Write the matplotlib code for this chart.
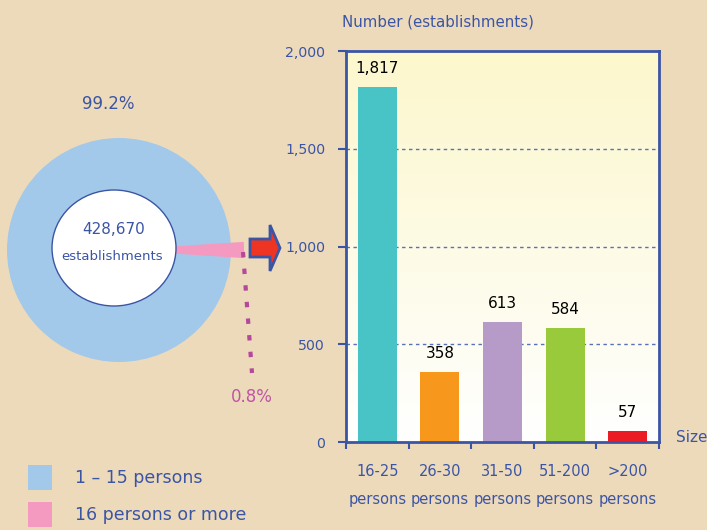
import numpy as np
import matplotlib
matplotlib.use("Agg")
import matplotlib.pyplot as plt
from matplotlib.patches import Ellipse, Polygon, Rectangle
from matplotlib.colors import LinearSegmentedColormap
from matplotlib.ticker import FuncFormatter

# datos
size_labels = ["16-25\npersons", "26-30\npersons", "31-50\npersons", "51-200\npersons", ">200\npersons"]
establishments = [1817, 358, 613, 584, 57]
bar_colors = ["#48C3C6", "#F7981D", "#B69AC7", "#99CA3C", "#EC1C24"]

share_labels = ["1 – 15 persons", "16 persons or more"]
shares = [99.2, 0.8]
share_colors = ["#A3C9EA", "#F49AC1"]
total_establishments = 428670

BG = "#EDDABB"
AZUL = "#3B55A5"
ROSA_TXT = "#BE55A4"
W, H = 707, 530

plt.rcParams["font.family"] = ["DejaVu Sans"]

fig = plt.figure(figsize=(W / 100, H / 100), dpi=100, facecolor=BG)

# capa en pixeles para la dona, flecha y leyenda
ax_o = fig.add_axes([0, 0, 1, 1])
ax_o.patch.set_visible(False)

def py(y):
    return H - y

cx, cy, radio = 119, py(250), 112
pct_chico = shares[1] / sum(shares) * 360
wedges, _ = ax_o.pie(shares, colors=share_colors, radius=radio, center=(cx, cy),
                     startangle=-pct_chico / 2, counterclock=True,
                     wedgeprops=dict(linewidth=0))
# la porcion pequeña se dibuja ampliada para que se vea
enfasis = 2.6
wedges[0].set_theta1(0)
wedges[0].set_theta2(360)
wedges[0].set_zorder(1)
wedges[1].set_radius(radio + 13)
wedges[1].set_theta1(-pct_chico * enfasis / 2)
wedges[1].set_theta2(pct_chico * enfasis / 2)
wedges[1].set_zorder(2)

ax_o.add_patch(Ellipse((114, py(248)), 124, 116, facecolor="white", edgecolor=AZUL,
                       linewidth=1, zorder=3))
ax_o.text(114, py(229), f"{total_establishments:,}", ha="center", va="center",
          fontsize=11, color=AZUL, zorder=4)
ax_o.text(112, py(257), "establishments", ha="center", va="center",
          fontsize=9.5, color=AZUL, zorder=4)

ax_o.text(108, py(104), f"{shares[0]:.1f}%", ha="center", va="center", fontsize=12, color=AZUL)
ax_o.text(252, py(397), f"{shares[1]:.1f}%", ha="center", va="center", fontsize=12, color=ROSA_TXT)
ax_o.plot([243, 252], [py(252), py(373)], color="#B5489B", linestyle=(0, (1.3, 2.7)),
          linewidth=3, dash_capstyle="butt", zorder=2)

flecha = [(250, py(239)), (270, py(239)), (270, py(225)), (280, py(248)),
          (270, py(271)), (270, py(257)), (250, py(257))]
ax_o.add_patch(Polygon(flecha, closed=True, facecolor="#EE3524", edgecolor=AZUL,
                       linewidth=2, joinstyle="miter", zorder=3))

# leyenda
for i, (lab, col) in enumerate(zip(share_labels, share_colors)):
    y0 = 465 + i * 37
    ax_o.add_patch(Rectangle((28, py(y0 + 25)), 24, 25, facecolor=col, edgecolor="none"))
    ax_o.text(75, py(y0 + 13), lab, ha="left", va="center", fontsize=12.5, color=AZUL)

ax_o.text(342, py(22), "Number (establishments)", ha="left", va="center", fontsize=10.8, color=AZUL)
ax_o.text(676, py(438), "Size", ha="left", va="center", fontsize=11, color=AZUL)

ax_o.set_xlim(0, W)
ax_o.set_ylim(0, H)
ax_o.set_aspect("auto")
ax_o.axis("off")

# grafico de barras
ax = fig.add_axes([346 / W, (H - 442) / H, 313 / W, 391 / H])
pos = np.arange(len(establishments))
ax.set_xlim(-0.5, len(establishments) - 0.5)
ax.set_ylim(0, 2000)

grad = np.linspace(0, 1, 256).reshape(-1, 1)
cmap = LinearSegmentedColormap.from_list("fondo", ["#FFFFFF", "#FCF7CC"])
ax.imshow(grad, extent=(-0.5, len(establishments) - 0.5, 0, 2000), origin="lower",
          aspect="auto", cmap=cmap, zorder=0)

for y in [500, 1000, 1500]:
    ax.axhline(y, color="#5A70B8", linewidth=1, linestyle=(0, (2.5, 2.5)), zorder=1)

ax.bar(pos, establishments, width=0.62, color=bar_colors, zorder=2)
for x, v in zip(pos, establishments):
    ax.annotate(f"{v:,}", (x, v), xytext=(0, 8), textcoords="offset points",
                ha="center", va="bottom", fontsize=11, color="black")

ax.set_yticks([0, 500, 1000, 1500, 2000])
ax.yaxis.set_major_formatter(FuncFormatter(lambda v, p: f"{v:,.0f}"))
ax.tick_params(axis="y", direction="out", length=6, width=1.5, color=AZUL,
               labelcolor=AZUL, labelsize=10.2, pad=9)

ax.set_xticks(np.arange(-0.5, len(establishments)), labels=[""] * (len(establishments) + 1))
ax.tick_params(axis="x", which="major", direction="out", length=5, width=1.5, color=AZUL)
ax.set_xticks(pos, labels=size_labels, minor=True)
ax.tick_params(axis="x", which="minor", length=0, labelcolor=AZUL, labelsize=10.5, pad=16)
for t in ax.get_xticklabels(minor=True):
    t.set_linespacing(2.1)

for s in ax.spines.values():
    s.set_color(AZUL)
    s.set_linewidth(2)

fig.savefig("out.png", dpi=100, facecolor=BG)
